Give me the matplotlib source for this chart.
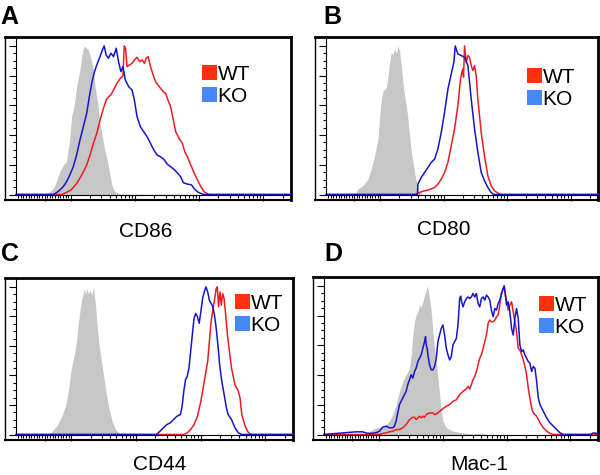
import numpy as np
import matplotlib
matplotlib.use("Agg")
import matplotlib.pyplot as plt
from matplotlib.patches import Rectangle

plt.rcParams["font.family"] = ["Liberation Sans", "DejaVu Sans"]

W, H = 600, 475
XMIN, XMAX = -108, 2.7e5
GRAY = "#c6c6c6"
WT_LINE = "#ec1c24"
KO_LINE = "#1616c8"
WT_KEY = "#ff3010"
KO_KEY = "#4688f8"

# x values are log10 of fluorescence intensity, y values are % of max
# --- A: CD86
a_gray_d = [0.81, 1.28, 1.51, 1.65, 1.76, 1.85, 1.92, 1.95, 1.98, 2.01, 2.037, 2.063, 2.089,
            2.115, 2.141, 2.168, 2.194, 2.220, 2.246, 2.272, 2.298, 2.325, 2.351, 2.377, 2.403,
            2.429, 2.455, 2.482, 2.508, 2.534, 2.560, 2.586, 2.613, 2.639, 2.665, 2.691, 2.743, 2.82]
a_gray_y = [0.7, 1.8, 4.0, 8.5, 15.3, 19.8, 22.0, 29.9, 36.6, 52.4, 56.9, 63.6, 72.6,
            78.2, 83.8, 92.8, 98.4, 100, 98.4, 97.3, 93.9, 89.4, 83.8, 72.6, 65.8,
            56.9, 47.9, 41.1, 34.4, 28.8, 24.3, 18.7, 11.9, 6.3, 3.4, 1.8, 0.7, 0.2]
a_wt_d = [1.81, 1.92, 2.01, 2.089, 2.168, 2.246, 2.298, 2.351, 2.403, 2.455, 2.508, 2.55, 2.586,
          2.623, 2.665, 2.717, 2.770, 2.812, 2.832, 2.853, 2.874, 2.916, 2.953, 2.990, 3.031,
          3.073, 3.110, 3.147, 3.173, 3.204, 3.241, 3.283, 3.32, 3.356, 3.398, 3.440, 3.477,
          3.513, 3.555, 3.597, 3.634, 3.686, 3.738, 3.775, 3.817, 3.869, 3.921, 3.974, 4.026,
          4.079, 4.141, 4.18]
a_wt_y = [0, 1.3, 3.4, 7.4, 13.0, 19.8, 26.5, 34.4, 41.1, 50.1, 58.0, 63.6, 65.8,
          67.0, 70.3, 74.8, 78.2, 79.8, 100, 98.4, 86.1, 87.2, 88.3, 90.6, 92.4,
          89.4, 90.6, 88.3, 91.7, 92.8, 86.1, 80.4, 76.0, 73.7, 71.5, 69.2, 68.1,
          63.6, 59.1, 50.1, 42.2, 37.8, 34.4, 28.8, 25.4, 19.8, 14.6, 9.7, 5.2,
          1.8, 0.2, 0]
a_ko_d = [1.51, 1.65, 1.76, 1.85, 1.92, 1.98, 2.037, 2.089, 2.141, 2.194, 2.246, 2.288, 2.325,
          2.361, 2.403, 2.445, 2.482, 2.518, 2.55, 2.586, 2.623, 2.665, 2.707, 2.743, 2.780,
          2.812, 2.848, 2.901, 2.953, 2.990, 3.031, 3.084, 3.136, 3.188, 3.241, 3.293, 3.346,
          3.398, 3.450, 3.503, 3.555, 3.607, 3.660, 3.712, 3.754, 3.817, 3.880, 3.921, 3.974,
          4.026, 4.079]
a_ko_y = [0, 1.1, 2.9, 5.2, 8.5, 13.0, 18.7, 26.5, 36.6, 45.6, 54.6, 65.8, 74.8,
          81.6, 87.2, 91.7, 96.2, 100, 93.9, 91.7, 95.1, 92.8, 98.4, 89.4, 82.7,
          86.1, 77.1, 72.6, 70.3, 63.6, 52.4, 45.6, 42.2, 38.9, 34.4, 29.9, 26.5,
          25.4, 23.6, 20.4, 18.7, 16.9, 14.6, 11.9, 7.9, 7.0, 6.5, 4.0, 1.8,
          0.7, 0]

# --- B: CD80
b_gray_d = [0.81, 1.11, 1.51, 1.72, 1.81, 1.89, 1.96, 1.99, 2.016, 2.042, 2.068, 2.094, 2.121,
            2.147, 2.173, 2.199, 2.226, 2.252, 2.278, 2.304, 2.331, 2.357, 2.383, 2.425, 2.462,
            2.499, 2.541, 2.583, 2.619, 2.672]
b_gray_y = [1.0, 3.6, 5.8, 10.3, 16.9, 25.8, 37.1, 52.8, 64.0, 69.7, 70.8, 71.9, 79.8,
            88.8, 95.5, 94.4, 97.8, 95.5, 100, 96.6, 86.5, 75.3, 66.3, 55.1, 39.3,
            25.8, 14.6, 5.8, 1.8, 0]
b_wt_d = [2.55, 2.646, 2.698, 2.751, 2.856, 2.908, 2.961, 3.013, 3.066, 3.118, 3.170, 3.223,
          3.265, 3.286, 3.302, 3.312, 3.328, 3.354, 3.381, 3.407, 3.433, 3.459, 3.486, 3.512,
          3.538, 3.591, 3.643, 3.696, 3.748, 3.801, 3.853, 3.906]
b_wt_y = [0, 1.8, 2.5, 2.9, 4.7, 7.0, 10.3, 14.8, 21.6, 32.8, 44.0, 59.8,
          77.8, 82.2, 84.5, 79.0, 100, 89.0, 93.5, 92.4, 86.7, 83.4, 86.7, 80.0,
          64.0, 41.6, 25.8, 12.4, 5.8, 2.5, 0.9, 0]
b_ko_d = [2.585, 2.593, 2.646, 2.698, 2.751, 2.803, 2.856, 2.908, 2.961, 3.013, 3.066, 3.118,
          3.160, 3.181, 3.223, 3.276, 3.328, 3.381, 3.433, 3.486, 3.538, 3.591, 3.643, 3.696,
          3.748, 3.790]
b_ko_y = [0, 7.0, 11.5, 14.8, 18.2, 21.6, 23.8, 30.6, 41.8, 55.3, 71.0, 81.1,
          89.0, 100, 94.6, 93.5, 92.4, 86.7, 64.3, 44.0, 28.3, 14.8, 9.2, 4.7,
          1.3, 0]

# --- C: CD44
c_gray_d = [1.04, 1.35, 1.52, 1.65, 1.74, 1.82, 1.89, 1.95, 2.0, 2.053, 2.079, 2.106, 2.132,
            2.158, 2.185, 2.201, 2.222, 2.237, 2.264, 2.290, 2.317, 2.343, 2.369, 2.396, 2.422,
            2.475, 2.528, 2.580, 2.633, 2.686, 2.739, 2.818]
c_gray_y = [0, 1.1, 3.4, 5.6, 9.0, 13.5, 19.1, 29.2, 44.9, 55.1, 62.9, 74.2, 83.1,
            91.0, 95.5, 98.9, 94.4, 98.9, 95.5, 97.8, 94.4, 100, 89.9, 76.4, 62.9,
            47.2, 31.5, 18.0, 9.0, 3.4, 1.1, 0]
c_wt_d = [3.741, 3.794, 3.847, 3.900, 3.953, 4.005, 4.058, 4.111, 4.137, 4.164, 4.190, 4.216,
          4.243, 4.259, 4.280, 4.301, 4.322, 4.343, 4.364, 4.385, 4.417, 4.454, 4.480, 4.533,
          4.586, 4.612, 4.639, 4.691, 4.744, 4.797]
c_wt_y = [0, 1.1, 3.4, 6.7, 12.4, 22.5, 36.0, 49.4, 62.9, 76.4, 84.3, 91.0,
          98.9, 100, 86.5, 96.6, 87.6, 95.5, 92.1, 83.1, 67.4, 53.9, 44.9, 33.7,
          29.2, 24.7, 13.5, 5.6, 1.1, 0]
c_ko_d = [3.319, 3.372, 3.425, 3.478, 3.530, 3.583, 3.636, 3.689, 3.715, 3.741, 3.768, 3.794,
          3.821, 3.847, 3.873, 3.900, 3.926, 3.953, 3.979, 4.005, 4.032, 4.058, 4.084, 4.111,
          4.137, 4.164, 4.190, 4.216, 4.243, 4.269, 4.296, 4.322, 4.348, 4.375, 4.401, 4.427,
          4.480, 4.533, 4.586, 4.639]
c_ko_y = [0, 2.2, 4.5, 6.7, 7.9, 10.1, 12.4, 13.5, 19.1, 29.2, 37.1, 39.3,
          44.9, 56.2, 67.4, 78.7, 82.0, 79.8, 75.3, 83.1, 92.1, 96.6, 100, 96.6,
          91.0, 88.8, 86.5, 80.9, 71.9, 60.7, 47.2, 38.2, 31.5, 24.7, 18.0, 13.5,
          10.1, 4.5, 1.1, 0]

# --- D: Mac-1
d_gray_d = [1.71, 1.81, 1.89, 1.95, 2.010, 2.063, 2.115, 2.168, 2.220, 2.272, 2.325, 2.377,
            2.429, 2.482, 2.508, 2.534, 2.560, 2.586, 2.613, 2.639, 2.665, 2.691, 2.717, 2.743,
            2.759, 2.775, 2.796, 2.822, 2.848, 2.874, 2.901, 2.927, 2.953, 2.979, 3.005, 3.058,
            3.162, 3.319, 3.476, 3.607, 3.686]
d_gray_y = [0.4, 2.2, 3.3, 4.5, 4.9, 5.6, 6.7, 8.9, 13.4, 20.1, 29.0, 35.7,
            40.2, 44.6, 53.6, 67.0, 75.9, 80.4, 82.6, 87.1, 85.9, 89.3, 93.8, 97.1,
            100, 97.1, 91.5, 82.6, 69.2, 58.0, 49.1, 37.9, 26.8, 15.6, 8.9, 4.5,
            2.2, 1.1, 0.4, 0.9, 0]
d_wt_d = [2.010, 2.063, 2.115, 2.168, 2.220, 2.272, 2.325, 2.377, 2.429, 2.482, 2.534, 2.560,
          2.586, 2.613, 2.639, 2.665, 2.691, 2.717, 2.743, 2.796, 2.848, 2.874, 2.901, 2.953,
          3.005, 3.058, 3.110, 3.162, 3.215, 3.267, 3.319, 3.372, 3.398, 3.424, 3.450, 3.476,
          3.503, 3.529, 3.555, 3.581, 3.607, 3.634, 3.660, 3.686, 3.712, 3.738, 3.764, 3.791,
          3.817, 3.843, 3.869, 3.895, 3.921, 3.948, 3.963, 3.984, 4.000, 4.026, 4.052, 4.079,
          4.105, 4.131, 4.157, 4.183, 4.209, 4.236, 4.262, 4.288, 4.314, 4.340, 4.366, 4.393,
          4.419, 4.471, 4.524, 4.576, 4.628, 4.681, 4.733]
d_wt_y = [0, 0.7, 1.1, 1.8, 2.2, 3.3, 3.3, 4.5, 6.7, 10.0, 11.6, 11.6,
          10.0, 11.2, 12.3, 11.2, 12.3, 11.6, 13.4, 14.5, 14.5, 13.4, 13.8, 15.6,
          17.4, 19.0, 20.1, 22.3, 23.4, 26.8, 29.0, 30.8, 32.4, 30.6, 33.5, 36.8,
          39.1, 42.4, 46.9, 51.3, 53.6, 58.0, 62.5, 67.0, 74.8, 77.0, 75.9, 75.9,
          77.0, 79.2, 80.4, 87.1, 94.9, 98.2, 100, 93.8, 90.4, 83.7, 87.1, 89.3,
          82.6, 75.9, 69.2, 58.0, 56.9, 53.6, 50.2, 45.8, 40.2, 31.3, 24.6, 17.9,
          14.5, 12.3, 7.8, 4.5, 2.2, 0.7, 0]
d_ko_d = [1.11, 1.41, 1.59, 1.71, 1.81, 1.89, 1.95, 2.010, 2.063, 2.115, 2.168, 2.220,
          2.246, 2.272, 2.298, 2.325, 2.351, 2.377, 2.403, 2.429, 2.455, 2.482, 2.508, 2.534,
          2.560, 2.586, 2.613, 2.639, 2.665, 2.691, 2.717, 2.733, 2.743, 2.759, 2.770, 2.796,
          2.822, 2.848, 2.874, 2.901, 2.927, 2.953, 2.979, 3.005, 3.031, 3.058, 3.084, 3.110,
          3.136, 3.162, 3.188, 3.215, 3.241, 3.267, 3.283, 3.298, 3.319, 3.346, 3.372, 3.398,
          3.424, 3.450, 3.476, 3.503, 3.529, 3.555, 3.581, 3.607, 3.634, 3.660, 3.686, 3.712,
          3.738, 3.764, 3.791, 3.817, 3.843, 3.869, 3.895, 3.921, 3.948, 3.963, 3.979, 4.000,
          4.026, 4.052, 4.079, 4.105, 4.131, 4.157, 4.183, 4.209, 4.236, 4.262, 4.288, 4.314,
          4.340, 4.366, 4.393, 4.419, 4.445, 4.471, 4.497, 4.524, 4.576, 4.628, 4.681, 4.733,
          4.785, 4.838, 4.890, 5.309, 5.361, 5.414]
d_ko_y = [1.8, 1.8, 1.8, 1.1, 0.7, 0.9, 1.1, 2.2, 4.9, 5.6, 4.5, 4.5,
          5.6, 8.9, 14.5, 20.1, 22.3, 24.6, 26.8, 29.0, 33.5, 36.8, 40.2, 37.9,
          42.4, 44.6, 49.1, 51.3, 53.6, 58.0, 62.5, 65.8, 60.3, 58.0, 53.6, 46.9,
          43.5, 43.5, 45.8, 51.3, 62.5, 67.0, 71.4, 73.7, 67.0, 58.0, 53.6, 50.2,
          52.5, 60.3, 62.5, 64.7, 73.7, 91.5, 93.1, 89.3, 85.9, 89.3, 91.5, 92.6,
          91.5, 92.6, 94.9, 92.6, 94.9, 88.2, 85.9, 91.5, 92.6, 90.4, 93.8, 92.6,
          90.4, 83.7, 79.2, 84.8, 83.7, 88.2, 90.4, 94.9, 98.2, 100, 94.9, 87.1,
          89.3, 82.6, 71.4, 67.0, 78.1, 84.8, 78.1, 60.3, 55.8, 56.9, 53.6, 51.3,
          49.1, 48.0, 42.4, 45.8, 44.6, 35.7, 24.6, 20.1, 15.6, 11.2, 7.8, 5.6,
          3.3, 1.1, 0, 0, 1.1, 0.7]

panels = [
    dict(letter="A", marker="CD86", frame=(5, 37, 291, 200), key=(202, 65),
         letter_xy=(0, 24), label_xy=(146, 237),
         gray=(a_gray_d, a_gray_y), wt=(a_wt_d, a_wt_y), ko=(a_ko_d, a_ko_y)),
    dict(letter="B", marker="CD80", frame=(315, 37, 598, 200), key=(527, 68),
         letter_xy=(323, 24), label_xy=(444, 235),
         gray=(b_gray_d, b_gray_y), wt=(b_wt_d, b_wt_y), ko=(b_ko_d, b_ko_y)),
    dict(letter="C", marker="CD44", frame=(5, 278, 293, 440), key=(235, 294),
         letter_xy=(1, 261), label_xy=(160, 470),
         gray=(c_gray_d, c_gray_y), wt=(c_wt_d, c_wt_y), ko=(c_ko_d, c_ko_y)),
    dict(letter="D", marker="Mac-1", frame=(313, 277, 598, 440), key=(539, 296),
         letter_xy=(324, 261), label_xy=(479, 470),
         gray=(d_gray_d, d_gray_y), wt=(d_wt_d, d_wt_y), ko=(d_ko_d, d_ko_y)),
]


def fx(px):
    return px / W


def fy(py):
    return 1 - py / H


def curve(d, y):
    # histogram runs along the baseline across the whole axis
    x = np.concatenate([[XMIN], 10 ** np.asarray(d, float), [XMAX]])
    y = np.concatenate([[0], np.asarray(y, float), [0]])
    return x, y


minor_x = ([-v for v in range(10, 101, 10)] + list(range(10, 100, 10))
           + [m * 10 ** e for e in (2, 3, 4) for m in range(2, 10)] + [2e5])

fig = plt.figure(figsize=(W / 100, H / 100), dpi=100)

for p in panels:
    x0, y0, x1, y1 = p["frame"]
    frame = fig.add_axes([fx(x0), fy(y1), fx(x1) - fx(x0), fy(y0) - fy(y1)], zorder=1)
    frame.set_xticks([])
    frame.set_yticks([])
    frame.patch.set_facecolor("white")
    frame.spines["left"].set_linewidth(1.0)
    frame.spines["bottom"].set_linewidth(1.5)
    frame.spines["top"].set_linewidth(2.0)
    frame.spines["right"].set_linewidth(2.0)

    ix0, iy1 = x0 + 11, y1 - 5.5
    ax = fig.add_axes([fx(ix0), fy(iy1), fx(x1) - fx(ix0), fy(y0) - fy(iy1)], zorder=2)
    ax.patch.set_alpha(0)
    ax.set_xscale("symlog", linthresh=100, linscale=0.37)
    ax.set_xlim(XMIN, XMAX)
    ax.set_ylim(0, 106)

    gx, gy = curve(*p["gray"])
    ax.fill_between(gx, gy, 0, color=GRAY, lw=0)
    wx, wy = curve(*p["wt"])
    ax.plot(wx, wy, color=WT_LINE, lw=1.1, clip_on=False)
    kx, ky = curve(*p["ko"])
    ax.plot(kx, ky, color=KO_LINE, lw=1.1, clip_on=False)

    ax.set_xticks([0, 1e2, 1e3, 1e4, 1e5])
    ax.set_xticks(minor_x, minor=True)
    ax.set_yticks(range(0, 101, 20))
    ax.set_yticks(range(0, 101, 5), minor=True)
    ax.tick_params(which="both", direction="out", width=0.8, color="black",
                   labelbottom=False, labelleft=False)
    ax.tick_params(axis="x", which="major", length=4)
    ax.tick_params(axis="x", which="minor", length=2.2)
    ax.tick_params(axis="y", which="major", length=5)
    ax.tick_params(axis="y", which="minor", length=2.5)
    ax.spines["top"].set_visible(False)
    ax.spines["right"].set_visible(False)
    ax.spines["left"].set_linewidth(0.8)
    ax.spines["bottom"].set_linewidth(0.8)

    # WT / KO key
    kx0, ky0 = p["key"]
    for i, (name, col) in enumerate([("WT", WT_KEY), ("KO", KO_KEY)]):
        top = ky0 + 22 * i
        fig.add_artist(Rectangle((fx(kx0), fy(top + 14.5)), 14.5 / W, 14.5 / H,
                                 transform=fig.transFigure, color=col, lw=0, zorder=5))
        fig.text(fx(kx0 + 15.5), fy(top + 15), name, fontsize=15,
                 ha="left", va="baseline", zorder=6)

    lx, ly = p["letter_xy"]
    fig.text(fx(lx), fy(ly), p["letter"], fontsize=18, fontweight="bold",
             ha="left", va="baseline")
    mx, my = p["label_xy"]
    fig.text(fx(mx), fy(my), p["marker"], fontsize=15, ha="center", va="baseline")

fig.savefig("out.png", dpi=100)
